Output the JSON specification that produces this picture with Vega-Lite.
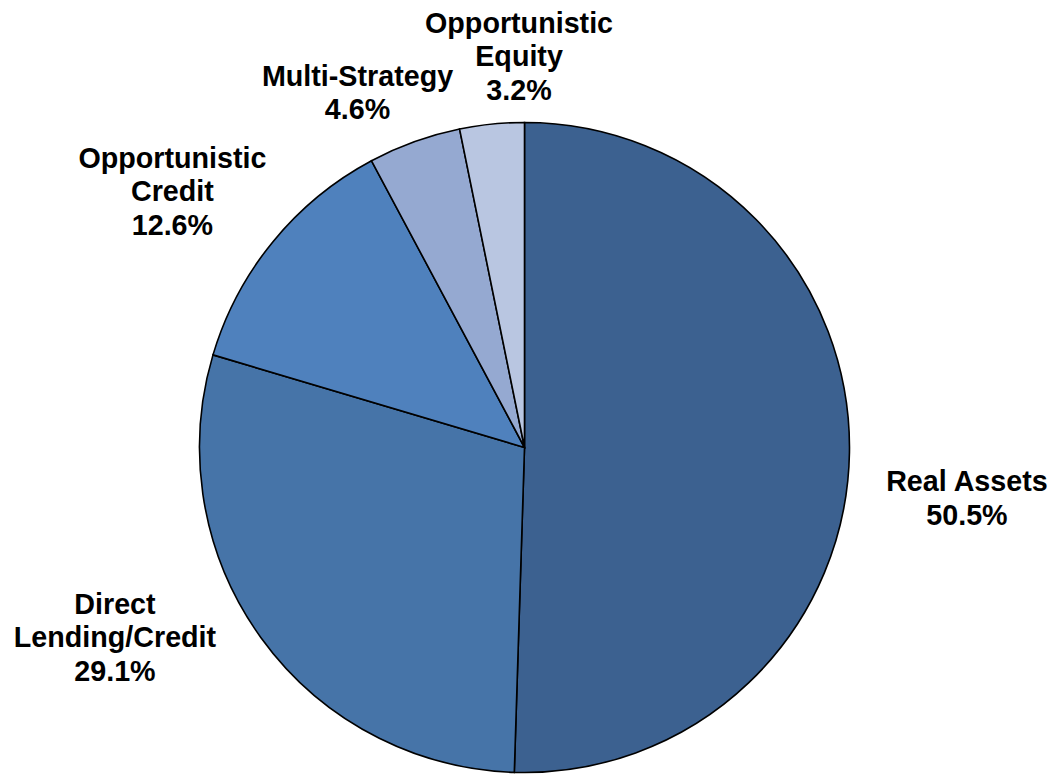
{
  "$schema": "https://vega.github.io/schema/vega-lite/v6.json",
  "width": 1049,
  "height": 655,
  "autosize": {"type": "none"},
  "padding": {"left": 0, "top": 120, "right": 9, "bottom": 0},
  "background": "white",
  "config": {"view": {"stroke": null}},
  "data": {
    "values": [
      {"category": "Real Assets", "label": "Real Assets\n50.5%", "value": 50.5, "order": 1},
      {"category": "Direct Lending/Credit", "label": "Direct\nLending/Credit\n29.1%", "value": 29.1, "order": 2},
      {"category": "Opportunistic Credit", "label": "Opportunistic\nCredit\n12.6%", "value": 12.6, "order": 3},
      {"category": "Multi-Strategy", "label": "Multi-Strategy\n4.6%", "value": 4.6, "order": 4},
      {"category": "Opportunistic Equity", "label": "Opportunistic\nEquity\n3.2%", "value": 3.2, "order": 5}
    ]
  },
  "encoding": {
    "theta": {"field": "value", "type": "quantitative", "stack": true},
    "order": {"field": "order", "type": "quantitative"}
  },
  "layer": [
    {
      "mark": {"type": "arc", "outerRadius": 325, "stroke": "black", "strokeWidth": 1.6},
      "encoding": {
        "color": {
          "field": "category",
          "type": "nominal",
          "scale": {
            "domain": ["Real Assets", "Direct Lending/Credit", "Opportunistic Credit", "Multi-Strategy", "Opportunistic Equity"],
            "range": ["#3C6190", "#4674A8", "#4F81BD", "#95A9D1", "#B9C6E1"]
          },
          "legend": null
        }
      }
    },
    {
      "mark": {"type": "text", "radius": 420, "dx": 22.5, "dy": 28.2, "font": "Liberation Sans", "fontSize": 28.7, "fontWeight": "bold", "lineHeight": 33.5, "lineBreak": "\n", "align": "center", "baseline": "middle", "fill": "black"},
      "encoding": {
        "detail": {"field": "category", "type": "nominal"},
        "text": {"condition": {"test": "datum.category === 'Real Assets'", "field": "label"}, "value": ""}
      }
    },
    {
      "mark": {"type": "text", "radius": 420, "dx": -69, "dy": -88.8, "font": "Liberation Sans", "fontSize": 28.7, "fontWeight": "bold", "lineHeight": 33.5, "lineBreak": "\n", "align": "center", "baseline": "middle", "fill": "black"},
      "encoding": {
        "detail": {"field": "category", "type": "nominal"},
        "text": {"condition": {"test": "datum.category === 'Direct Lending/Credit'", "field": "label"}, "value": ""}
      }
    },
    {
      "mark": {"type": "text", "radius": 420, "dx": -26.8, "dy": -23.3, "font": "Liberation Sans", "fontSize": 28.7, "fontWeight": "bold", "lineHeight": 33.5, "lineBreak": "\n", "align": "center", "baseline": "middle", "fill": "black"},
      "encoding": {
        "detail": {"field": "category", "type": "nominal"},
        "text": {"condition": {"test": "datum.category === 'Opportunistic Credit'", "field": "label"}, "value": ""}
      }
    },
    {
      "mark": {"type": "text", "radius": 420, "dx": -24.7, "dy": 24.3, "font": "Liberation Sans", "fontSize": 28.7, "fontWeight": "bold", "lineHeight": 33.5, "lineBreak": "\n", "align": "center", "baseline": "middle", "fill": "black"},
      "encoding": {
        "detail": {"field": "category", "type": "nominal"},
        "text": {"condition": {"test": "datum.category === 'Multi-Strategy'", "field": "label"}, "value": ""}
      }
    },
    {
      "mark": {"type": "text", "radius": 420, "dx": 36.7, "dy": -6.1, "font": "Liberation Sans", "fontSize": 28.7, "fontWeight": "bold", "lineHeight": 33.5, "lineBreak": "\n", "align": "center", "baseline": "middle", "fill": "black"},
      "encoding": {
        "detail": {"field": "category", "type": "nominal"},
        "text": {"condition": {"test": "datum.category === 'Opportunistic Equity'", "field": "label"}, "value": ""}
      }
    }
  ]
}
